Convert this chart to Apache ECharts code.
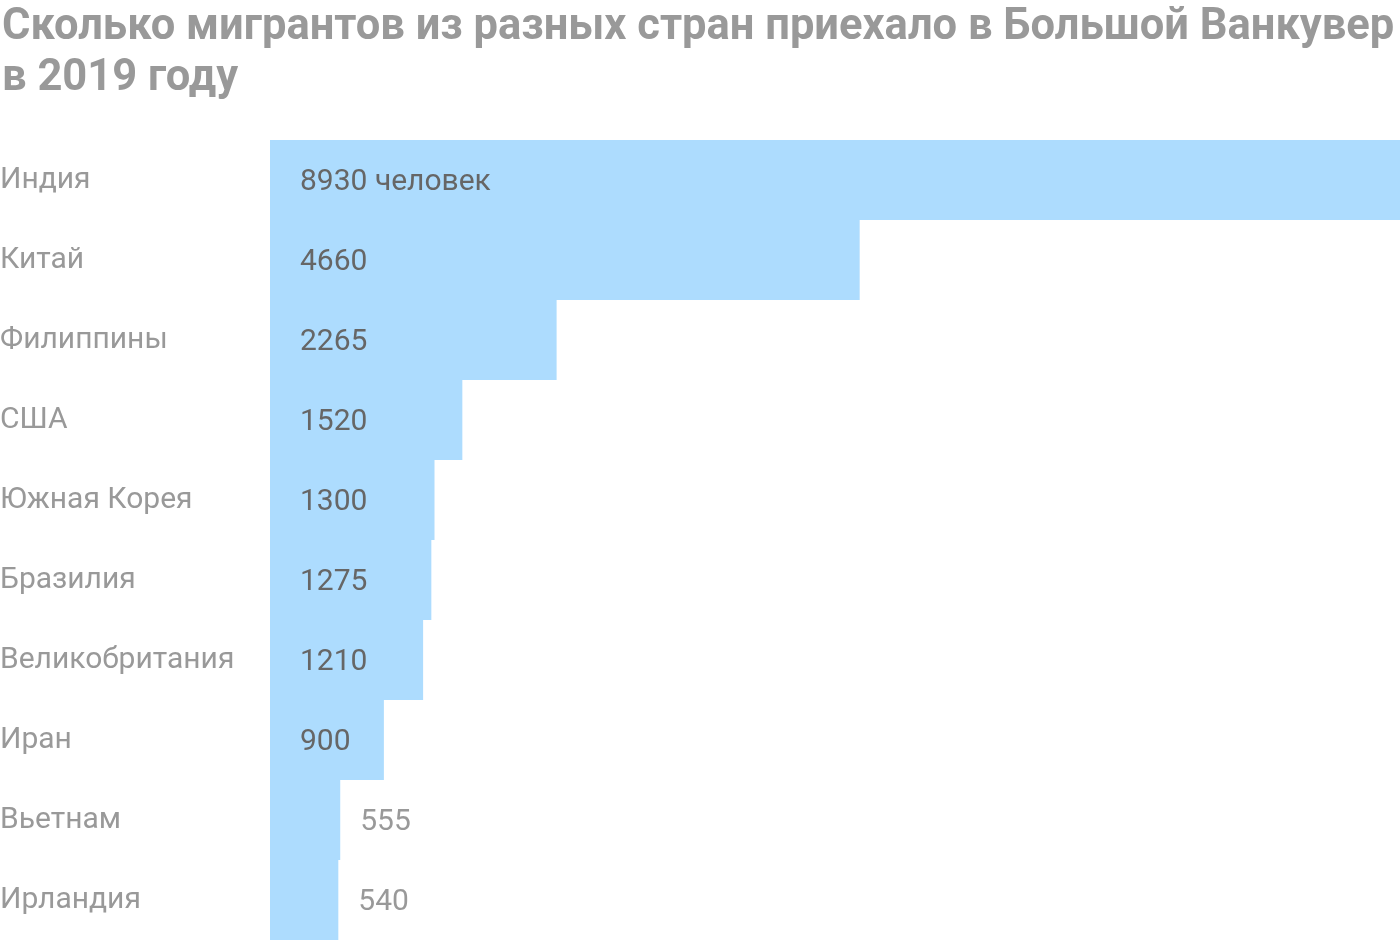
<!DOCTYPE html>
<html>
<head>
<meta charset="utf-8">
<script src="https://cdn.jsdelivr.net/npm/echarts@6/dist/echarts.min.js"></script>
<style>
  html, body { margin: 0; padding: 0; background: #fff; }
  #chart { width: 1400px; height: 940px; }
</style>
</head>
<body>
<div id="chart"></div>
<script>
const countries = ['Индия', 'Китай', 'Филиппины', 'США', 'Южная Корея', 'Бразилия', 'Великобритания', 'Иран', 'Вьетнам', 'Ирландия'];
const migrants = [8930, 4660, 2265, 1520, 1300, 1275, 1210, 900, 555, 540];
// bars too short to hold their label get it outside
const outsideLabel = [false, false, false, false, false, false, false, false, true, true];

const font = 'Roboto, "Noto Sans", sans-serif';

let chart = echarts.init(document.getElementById('chart'), null, {renderer: 'canvas'});

let seriesData = migrants.map((v, i) => {
  let item = {value: v};
  if (outsideLabel[i]) {
    item.label = {position: 'right', distance: 20, color: '#999999'};
  }
  return item;
});

let option = {
  animation: false,
  title: {
    text: 'Сколько мигрантов из разных стран приехало в Большой Ванкувер\nв 2019 году',
    left: -3,
    top: -2,
    textStyle: {
      fontFamily: font,
      fontSize: 43.5,
      fontWeight: 'bold',
      color: '#999999',
      lineHeight: 51
    }
  },
  grid: {
    left: 270,
    right: 0,
    top: 140,
    bottom: 0,
    containLabel: false,
    outerBoundsMode: 'none'
  },
  xAxis: {
    type: 'value',
    min: 0,
    max: migrants[0],
    show: false
  },
  yAxis: {
    type: 'category',
    data: countries,
    inverse: true,
    axisLine: {show: false},
    axisTick: {show: false},
    axisLabel: {
      margin: 270,
      align: 'left',
      padding: [4, 0, 0, 0],
      fontFamily: font,
      fontSize: 30,
      color: '#999999'
    }
  },
  series: [
    {
      type: 'bar',
      data: seriesData,
      barCategoryGap: 0,
      itemStyle: {color: '#addcfe'},
      label: {
        show: true,
        position: 'insideLeft',
        distance: 30,
        offset: [0, 2],
        fontFamily: font,
        fontSize: 30,
        color: '#666666',
        formatter: (p) => p.dataIndex === 0 ? p.value + ' человек' : String(p.value)
      }
    }
  ]
};

chart.setOption(option);
</script>
</body>
</html>
